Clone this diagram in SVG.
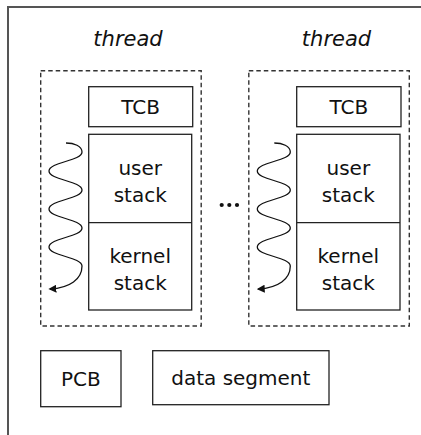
<svg xmlns="http://www.w3.org/2000/svg" width="421" height="435" viewBox="0 0 421 435">
<defs>
<style>
.box{fill:#fff;stroke:#222;stroke-width:1.3}
.dash{fill:none;stroke:#333;stroke-width:1.4;stroke-dasharray:4.5 3}
.t{font-family:"DejaVu Sans",sans-serif;font-size:20px;fill:#111;text-anchor:middle}
.th{font-family:"DejaVu Sans",sans-serif;font-size:21px;font-style:italic;fill:#111;text-anchor:middle}
.wave{fill:none;stroke:#111;stroke-width:1.3}
</style>
<marker id="ah" viewBox="0 0 10 10" refX="8" refY="5" markerWidth="8" markerHeight="8" markerUnits="userSpaceOnUse" orient="auto">
<path d="M0,0 L10,5 L0,10 z" fill="#111"/>
</marker>
</defs>
<rect x="0" y="0" width="421" height="435" fill="#fff"/>
<path d="M8,435 V7 H421" fill="none" stroke="#555" stroke-width="2"/>
<g id="thread1">
<text class="th" x="128" y="46">thread</text>
<rect class="dash" x="40.7" y="70.7" width="160.5" height="255.3"/>
<g id="tcb1"><rect class="box" x="88.7" y="86.7" width="104" height="40"/><text class="t" x="140.7" y="114">TCB</text></g>
<g id="stack1"><rect class="box" x="88.7" y="134.3" width="103" height="175.7"/><line x1="88.7" y1="222.7" x2="191.7" y2="222.7" stroke="#222" stroke-width="1.3"/>
<text class="t" x="140.2" y="175">user</text><text class="t" x="140.2" y="201.5">stack</text>
<text class="t" x="140.2" y="263">kernel</text><text class="t" x="140.2" y="289.5">stack</text></g>
</g>
<g id="thread2">
<text class="th" x="336.5" y="46">thread</text>
<rect class="dash" x="248.8" y="70.7" width="160.5" height="255.3"/>
<g id="tcb2"><rect class="box" x="296.7" y="86.7" width="104.3" height="40"/><text class="t" x="348.8" y="114">TCB</text></g>
<g id="stack2"><rect class="box" x="296.7" y="134.3" width="103.3" height="175.7"/><line x1="296.7" y1="222.7" x2="400" y2="222.7" stroke="#222" stroke-width="1.3"/>
<text class="t" x="348.3" y="175">user</text><text class="t" x="348.3" y="201.5">stack</text>
<text class="t" x="348.3" y="263">kernel</text><text class="t" x="348.3" y="289.5">stack</text></g>
</g>
<g id="ellipsis" fill="#111"><circle cx="221.7" cy="205" r="2.1"/><circle cx="229.3" cy="205" r="2.1"/><circle cx="237" cy="205" r="2.1"/></g>
<g id="pcb"><rect class="box" x="40.7" y="350.7" width="80.3" height="56"/><text class="t" x="80.8" y="386">PCB</text></g>
<g id="data"><rect class="box" x="152.7" y="350.7" width="176.3" height="54"/><text class="t" x="240.8" y="385">data segment</text></g>
<g id="connectors">
<path class="wave" marker-end="url(#ah)" d="M66,143 C74,143 82,146 82,152 C82,161 49,162 49,171 C49,180 82,181 82,190 C82,199 49,200 49,209 C49,218 82,219 82,228 C82,237 49,238 49,247 C49,256 82,257 82,266 C82,279 70,288 50,289"/>
<path class="wave" marker-end="url(#ah)" transform="translate(208.3,0)" d="M66,143 C74,143 82,146 82,152 C82,161 49,162 49,171 C49,180 82,181 82,190 C82,199 49,200 49,209 C49,218 82,219 82,228 C82,237 49,238 49,247 C49,256 82,257 82,266 C82,279 70,288 50,289"/>
</g>
</svg>
